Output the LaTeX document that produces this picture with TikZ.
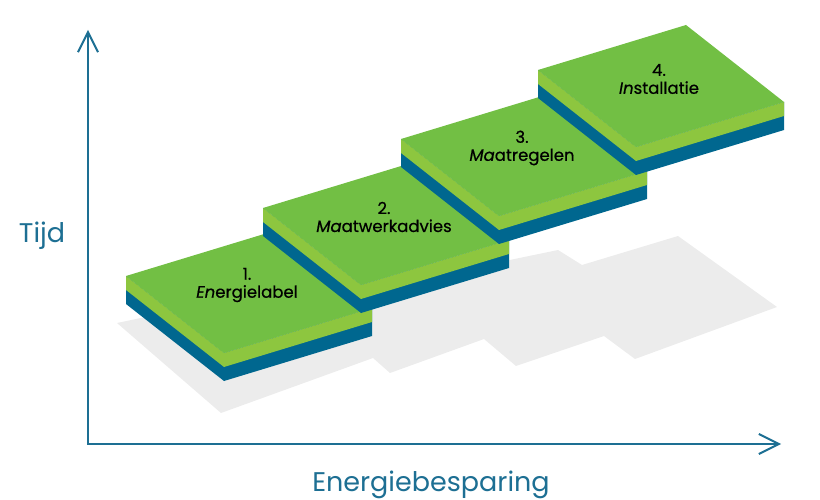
\documentclass[tikz,border=0pt]{standalone}
\usepackage{fontspec}
\setmainfont{Poppins}
\usetikzlibrary{arrows.meta}
\definecolor{topgroen}{HTML}{72BF44}
\definecolor{lichtgroen}{HTML}{8DC63F}
\definecolor{blauw}{HTML}{00678F}
\definecolor{schaduw}{HTML}{ECECEC}
\definecolor{asblauw}{HTML}{1D6F93}
\tikzset{
  stap/.style={font=\fontsize{16.5}{18}\selectfont\addfontfeatures{FakeBold=0.6}, align=center, inner sep=0pt},
  aslabel/.style={font=\fontsize{27}{30}\selectfont, text=asblauw, inner sep=0pt},
}

\begin{document}
\begin{tikzpicture}[x=1pt,y=-1pt]
	\def\ax{98}  \def\ay{77}   % linker hoek -> onderste hoek
	\def\bx{148} \def\by{-45}  % linker hoek -> bovenste hoek
	\def\d{14}                 % dikte van een laag
	\useasboundingbox (0,0) rectangle (820,500);
	
	% Schaduw
	\fill[schaduw] (117,323) -- (221,413) -- (373,358) -- (390,373) -- (484,339) -- (516,366) -- (604,336) -- (635,359) -- (777,307) -- (678,236) -- (582,265) -- (558,250) -- (500,262) -- (440,262) -- (250,295) -- cycle;
	
	% Treden
	\foreach \lx/\ly/\nr/\naam in {126/276/1/{\textit{En}ergielabel}, 263/208/2/{\textit{Ma}atwerkadvies}, 401/139/3/{\textit{Ma}atregelen}, 538/70/4/{\textit{In}stallatie}} {
		\fill[blauw] (\lx,\ly) -- (\lx+\ax,\ly+\ay) -- (\lx+\ax+\bx,\ly+\ay+\by) -- (\lx+\ax+\bx,\ly+\ay+\by+2*\d) -- (\lx+\ax,\ly+\ay+2*\d) -- (\lx,\ly+2*\d) -- cycle; % onderlaag
		\fill[lichtgroen] (\lx,\ly) -- (\lx+\ax,\ly+\ay) -- (\lx+\ax+\bx,\ly+\ay+\by) -- (\lx+\ax+\bx,\ly+\ay+\by+\d) -- (\lx+\ax,\ly+\ay+\d) -- (\lx,\ly+\d) -- cycle; % middenlaag
		\fill[topgroen] (\lx,\ly) -- (\lx+\ax,\ly+\ay) -- (\lx+\ax+\bx,\ly+\ay+\by) -- (\lx+\bx,\ly+\by) -- cycle; % bovenkant
		\node[stap] (stap\nr) at (\lx+121,\ly+9) {\nr.\\\naam};
	}
	
	% Assen
	\coordinate (oorsprong) at (88,444);
	\coordinate (ytop) at (88,30);
	\coordinate (xeind) at (781,444);
	\draw[asblauw, line width=2pt, {Straight Barb[length=20pt,width=20pt]}-{Straight Barb[length=20pt,width=20pt]}] (ytop) -- (oorsprong) -- (xeind);
	\node[aslabel, anchor=base] (tijd) at (42,243) {Tijd};
	\node[aslabel, anchor=base] (besparing) at (431,491) {Energiebesparing};
\end{tikzpicture}
\end{document}
